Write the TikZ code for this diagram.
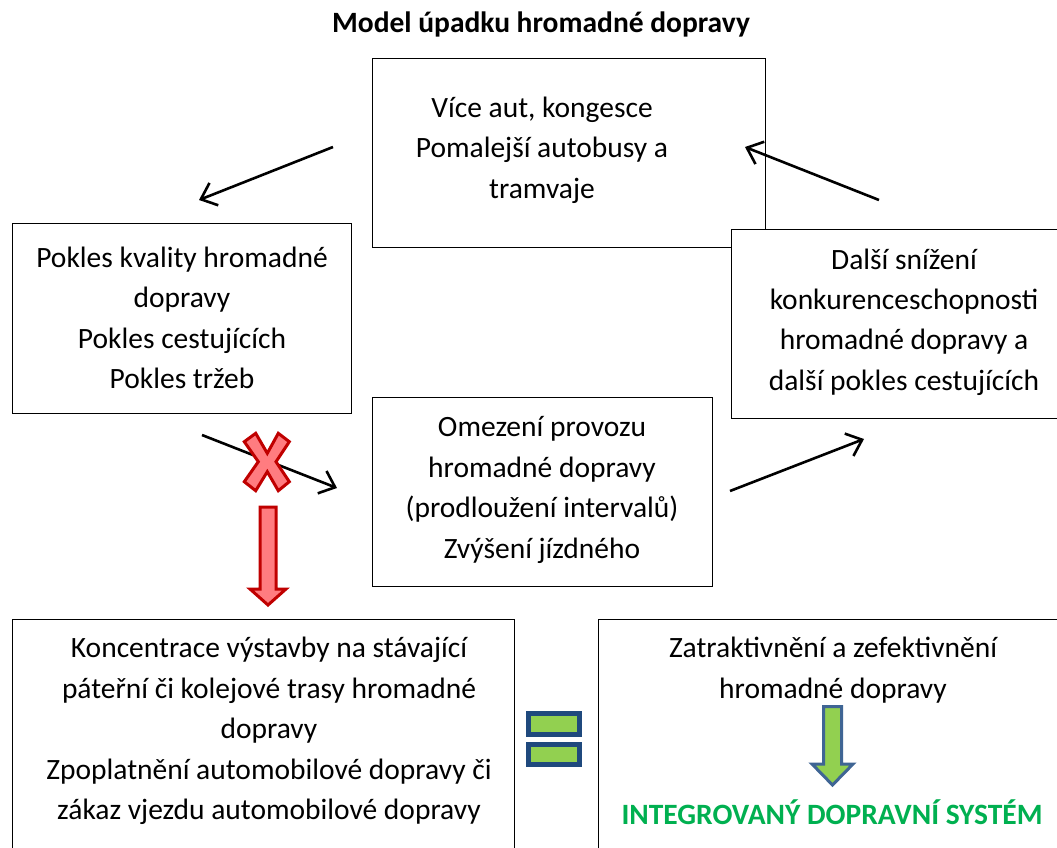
\documentclass[tikz,border=0pt]{standalone}
\usepackage{fontspec}
\setmainfont{Carlito}
\usetikzlibrary{arrows.meta}
\definecolor{xred}{HTML}{C00000}
\definecolor{xpink}{HTML}{FF7C80}
\definecolor{eqblue}{HTML}{1F497D}
\definecolor{arblue}{HTML}{3F6594}
\definecolor{lgreen}{HTML}{92D050}
\definecolor{idsgreen}{HTML}{00B050}

\begin{document}
\begin{tikzpicture}[x=1pt, y=-1pt,
  panel/.style={draw=black, fill=white, line width=1pt, inner sep=0pt},
  txt/.style={align=center, inner sep=0pt, font=\fontsize{29.5}{40.4}\selectfont},
  flow/.style={line width=2.6pt, -{Straight Barb[length=14pt, width=24pt, line width=2.6pt]}}]
  % Frame
  \clip (0,0) rectangle (1057,847);
  \fill[white] (0,0) rectangle (1057,847);
  % Title
  \node[txt, font=\fontsize{29.5}{40.4}\selectfont\bfseries] (title) at (541,24) {Model úpadku hromadné dopravy};
  % Boxes of the cycle
  \node[panel, minimum width=393pt, minimum height=189pt] (cars) at (568.5,152.5) {};
  \node[txt] (carsTxt) at (542,150) {Více aut, kongesce\\Pomalejší autobusy a\\tramvaje};
  \node[panel, minimum width=339pt, minimum height=190pt] (drop) at (181.5,318) {};
  \node[txt] (dropTxt) at (182,318) {Pokles kvality hromadné\\dopravy\\Pokles cestujících\\Pokles tržeb};
  \node[panel, minimum width=340pt, minimum height=189pt] (cut) at (542,491.5) {};
  \node[txt] (cutTxt) at (542,490) {Omezení provozu\\hromadné dopravy\\(prodloužení intervalů)\\Zvýšení jízdného};
  \node[panel, minimum width=340pt, minimum height=189pt] (less) at (901,323.5) {};
  \node[txt] (lessTxt) at (904,322) {Další snížení\\konkurenceschopnosti\\hromadné dopravy a\\další pokles cestujících};
  % Arrow end points
  \coordinate (a1s) at (333,147);
  \coordinate (a1e) at (199,200);
  \coordinate (a2s) at (879,200);
  \coordinate (a2e) at (745,147);
  \coordinate (a3s) at (202,435);
  \coordinate (a3e) at (337,488);
  \coordinate (a4s) at (730,491);
  \coordinate (a4e) at (864,439);
  \draw[flow] (a1s) -- (a1e);
  \draw[flow] (a2s) -- (a2e);
  \draw[flow] (a3s) -- (a3e);
  \draw[flow] (a4s) -- (a4e);
  % Red cross
  \filldraw[draw=xred, fill=xpink, line width=3pt, line join=miter]
    (244.3,441.7) -- (255.7,433.3) -- (267.3,453.3) -- (278.3,433.3) -- (289.3,441.7)
    -- (276,461.7) -- (289.3,481.7) -- (278.3,490.7) -- (267.3,471.7) -- (255.7,490.7)
    -- (244.3,481.7) -- (258.3,461.7) -- cycle;
  % Red block arrow
  \filldraw[draw=xred, fill=xpink, line width=3pt, line join=miter]
    (260,507) -- (276,507) -- (276,589) -- (286,589) -- (268,605) -- (250,589) -- (260,589) -- cycle;
  % Bottom boxes
  \node[panel, minimum width=502pt, minimum height=240pt] (build) at (263,739) {};
  \node[txt] (buildTxt) at (269,731) {Koncentrace výstavby na stávající\\páteřní či kolejové trasy hromadné\\dopravy\\Zpoplatnění automobilové dopravy či\\zákaz vjezdu automobilové dopravy};
  \node[panel, minimum width=470pt, minimum height=240pt] (attract) at (833,739) {};
  \node[txt] (attractTxt) at (833,670) {Zatraktivnění a zefektivnění\\hromadné dopravy};
  % Equals sign
  \filldraw[draw=eqblue, fill=lgreen, line width=5pt] (528.5,713.5) rectangle (579.5,734.5);
  \filldraw[draw=eqblue, fill=lgreen, line width=5pt] (528.5,744.5) rectangle (579.5,764.5);
  % Green block arrow
  \filldraw[draw=arblue, fill=lgreen, line width=3pt, line join=miter]
    (823.5,706.5) -- (841.5,706.5) -- (841.5,764) -- (853,764) -- (832.5,785) -- (812,764) -- (823.5,764) -- cycle;
  \node[txt, text=idsgreen, font=\fontsize{29.5}{40.4}\selectfont\bfseries] (ids) at (832,812) {INTEGROVANÝ DOPRAVNÍ SYSTÉM};
\end{tikzpicture}
\end{document}
